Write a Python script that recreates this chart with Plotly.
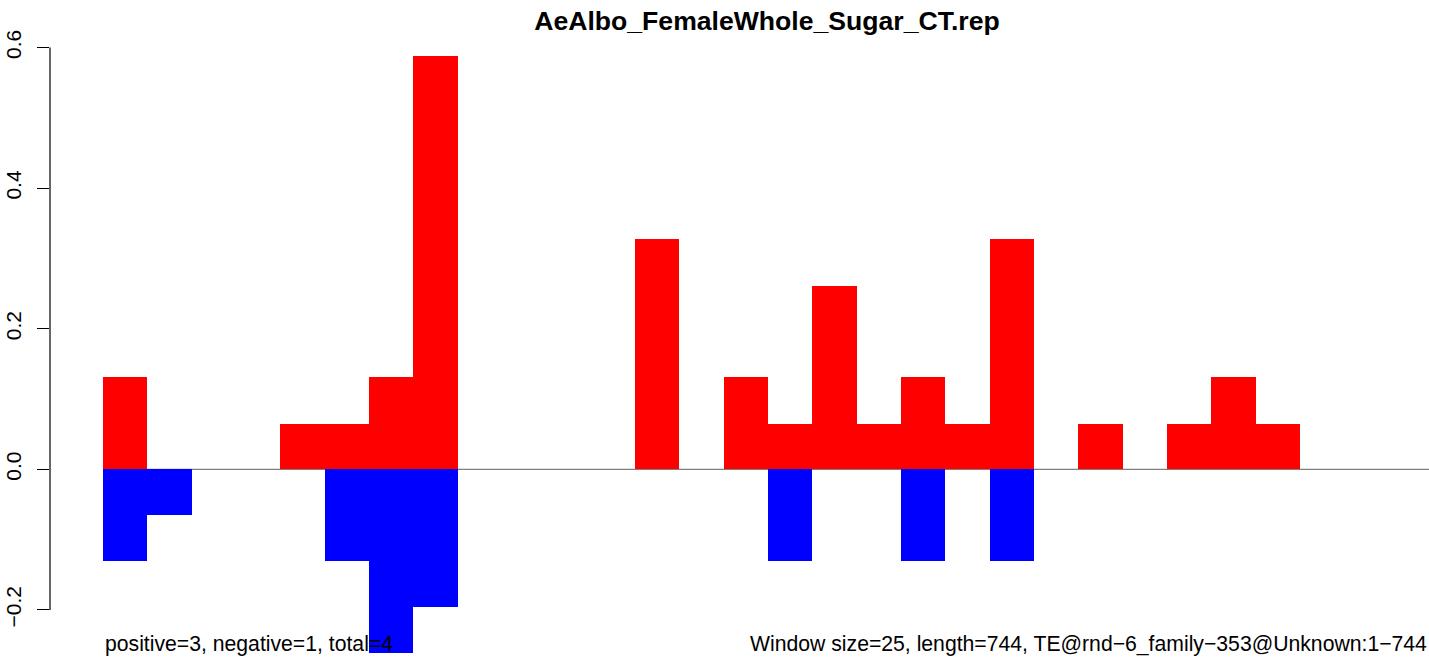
import plotly.graph_objects as go

# Window-level signal for TE@rnd-6_family-353@Unknown (length 744, window 25)
window_size = 25
seq_length = 744
window_start = [0, 25, 50, 75, 100, 125, 150, 175, 200, 225,
                250, 275, 300, 325, 350, 375, 400, 425, 450, 475,
                500, 525, 550, 575, 600, 625, 650, 675, 700, 725]
positive = [0.131, 0, 0, 0, 0.065, 0.065, 0.131, 0.588, 0, 0,
            0, 0, 0.327, 0, 0.131, 0.065, 0.261, 0.065, 0.131, 0.065,
            0.327, 0, 0.065, 0, 0.065, 0.131, 0.065, 0, 0, 0]
negative = [-0.131, -0.065, 0, 0, 0, -0.131, -0.261, -0.196, 0, 0,
            0, 0, 0, 0, 0, -0.131, 0, 0, -0.131, 0,
            -0.131, 0, 0, 0, 0, 0, 0, 0, 0, 0]
y_ticks = [-0.2, 0.0, 0.2, 0.4, 0.6]
y_tick_text = ["\u22120.2", "0.0", "0.2", "0.4", "0.6"]

title_text = "AeAlbo_FemaleWhole_Sugar_CT.rep"
left_note = "positive=3, negative=1, total=4"
right_note = ("Window size=25, length=744, "
              "TE@rnd\u22126_family\u2212353@Unknown:1\u2212744")

W, H = 1429, 658
ML = 50
FONT = "Liberation Sans, Arial, Helvetica, sans-serif"

centers = [s + window_size / 2 for s in window_start]

fig = go.Figure()
fig.add_trace(go.Bar(x=centers, y=positive, width=window_size, base=0,
                     marker=dict(color="#FF0000", line=dict(width=0)),
                     hoverinfo="skip"))
fig.add_trace(go.Bar(x=centers, y=negative, width=window_size, base=0,
                     marker=dict(color="#0000FF", line=dict(width=0)),
                     hoverinfo="skip"))

x_range = [-29.89, 747.8]
y_range = [-0.2684, 0.6676]

# zero baseline across the sequence
fig.add_shape(type="line", xref="x", yref="y", x0=0, x1=x_range[1],
              y0=0, y1=0, line=dict(color="#808080", width=1.2),
              layer="below")
# left axis spine spanning the tick range
fig.add_shape(type="line", xref="paper", yref="y", x0=0, x1=0,
              y0=y_ticks[0], y1=y_ticks[-1],
              line=dict(color="black", width=1.2))


def px(xp):
    return (xp - ML) / (W - ML)


def py(yp):
    return 1 - yp / H


fig.add_annotation(text=left_note, xref="paper", yref="paper",
                   x=px(103), y=py(644), xanchor="left", yanchor="middle",
                   showarrow=False, font=dict(family=FONT, size=21.2,
                                              color="black"))
fig.add_annotation(text=right_note, xref="paper", yref="paper",
                   x=px(1429), y=py(644), xanchor="right", yanchor="middle",
                   showarrow=False, font=dict(family=FONT, size=21.2,
                                              color="black"))

fig.update_layout(
    width=W, height=H,
    margin=dict(l=ML, r=0, t=0, b=0),
    paper_bgcolor="white", plot_bgcolor="white",
    barmode="overlay", bargap=0, showlegend=False,
    title=dict(text="<b>" + title_text + "</b>", x=767 / W, y=1 - 21 / H,
               xref="container", yref="container",
               xanchor="center", yanchor="middle",
               font=dict(family=FONT, size=26.6, color="black")),
    xaxis=dict(range=x_range, showgrid=False, zeroline=False,
               showline=False, showticklabels=False, ticks=""),
    yaxis=dict(range=y_range, showgrid=False, zeroline=False,
               showline=False, tickmode="array", tickvals=y_ticks,
               ticktext=y_tick_text, ticks="outside", ticklen=12,
               tickwidth=1.2, tickcolor="black", tickangle=-90,
               ticklabelstandoff=8,
               tickfont=dict(family=FONT, size=21, color="black")),
)

fig.write_html("out.html")
